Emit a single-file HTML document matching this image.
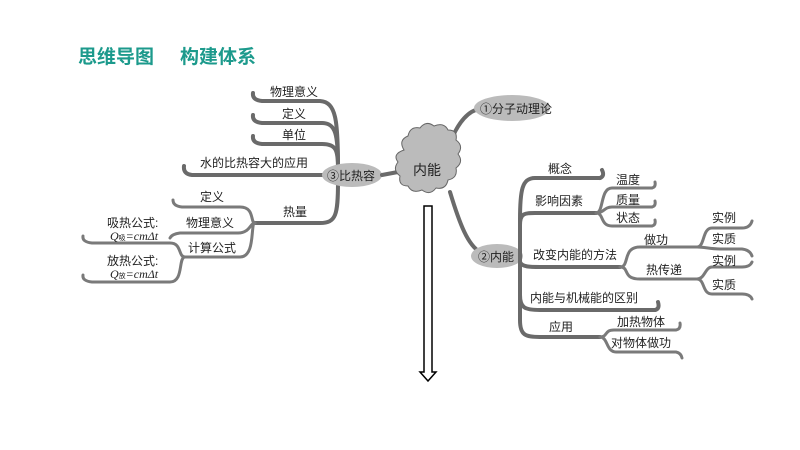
<!DOCTYPE html>
<html><head><meta charset="utf-8"><style>
body{margin:0;background:#fff;}
svg{display:block;}
text{font-family:"Liberation Sans","Noto Sans CJK SC",sans-serif;font-size:12px;fill:#222;}
.t{font-size:19px;font-weight:bold;fill:#1c9a8c;}
.l{fill:none;stroke:#6a6a6a;stroke-width:4;stroke-linecap:round;}
.s{fill:none;stroke:#7a7a7a;stroke-width:3;stroke-linecap:round;}
</style></head><body>
<svg width="800" height="450" viewBox="0 0 800 450">
<text x="78" y="63" class="t">思维导图</text>
<text x="180" y="63" class="t">构建体系</text>

<path class="l" d="M338,168 C338,120 336,102 320,101 L262,101 Q252,100 253,93"/>
<path class="l" d="M338,168 C338,135 336,123 322,123 L262,123 Q252,122 253,115"/>
<path class="l" d="M338,168 C338,150 336,144 322,144 L262,144 Q252,143 253,136"/>
<path class="l" d="M330,175 L192,175 Q183,174 184,166"/>
<path class="l" d="M338,182 C338,215 336,223 320,223 L255,223"/>
<path class="s" d="M255,223 C250,223 255,207 240,207 L182,207 Q173,206 173,200"/>
<path class="s" d="M255,223 C250,223 250,233 238,233 L180,233 Q172,234 170,238"/>
<path class="s" d="M255,223 C250,223 256,257 240,257 L185,257"/>
<path class="s" d="M185,257 C178,257 182,243 170,243 L92,243 Q82,242 83,236"/>
<path class="s" d="M185,257 C178,257 184,282 170,282 L92,282 Q82,281 83,275"/>
<text x="270" y="96">物理意义</text>
<text x="282" y="118">定义</text>
<text x="282" y="139">单位</text>
<text x="200" y="167">水的比热容大的应用</text>
<text x="283" y="216">热量</text>
<text x="200" y="201">定义</text>
<text x="186" y="227">物理意义</text>
<text x="188" y="252">计算公式</text>
<text x="107" y="227">吸热公式:</text>
<text x="110" y="240" style="font-style:italic;font-family:'Liberation Serif',serif;font-size:12px">Q<tspan font-size="7" font-style="normal">吸</tspan>=cmΔt</text>
<text x="107" y="265">放热公式:</text>
<text x="110" y="278" style="font-style:italic;font-family:'Liberation Serif',serif;font-size:12px">Q<tspan font-size="7" font-style="normal">放</tspan>=cmΔt</text>
<ellipse cx="352" cy="175" rx="30" ry="12" fill="#bbb"/>
<text x="327" y="180">③比热容</text>
<path class="l" d="M382,175 L398,172"/>

<path class="l" d="M448,148 C458,120 470,110 480,109"/>
<path class="l" d="M450,192 C460,225 468,245 480,252"/>

<g fill="#bbb" stroke="#666" stroke-width="1">
<path d="M404,150 q-6,-10 4,-14 q2,-10 12,-8 q6,-8 14,-2 q10,-4 14,4 q10,0 8,10 q8,6 2,14 q6,8 -2,14 q2,10 -8,12 q-2,10 -12,8 q-6,8 -14,2 q-10,4 -14,-4 q-10,0 -8,-10 q-8,-6 -2,-14 q-6,-8 6,-12z"/>
</g>
<text x="413" y="175" style="font-size:14px">内能</text>

<path d="M424,206 L432,206 L432,372 L436,372 L428,381 L420,372 L424,372 Z" fill="#fff" stroke="#000" stroke-width="1.5"/>

<ellipse cx="512" cy="108" rx="38" ry="13" fill="#bbb"/>
<text x="480" y="113">①分子动理论</text>

<ellipse cx="497" cy="256" rx="26" ry="12" fill="#bbb"/>
<text x="478" y="261">②内能</text>

<path class="l" d="M600,178 L535,178 C522,178 520,190 520,220 L520,320 C520,335 525,337 540,337 L600,337"/>
<path class="l" d="M520,225 C520,213 525,213 535,213 L596,213"/>
<path class="l" d="M520,262 C522,267 530,267 540,267 L620,267"/>
<path class="l" d="M520,295 C520,308 525,310 540,310 L655,310"/>
<path class="l" d="M600,178 Q605,176 602,170"/>
<text x="548" y="173">概念</text>
<text x="535" y="205">影响因素</text>
<path class="s" d="M596,213 C604,213 600,188 612,188 L652,188 Q656,187 655,182"/>
<path class="s" d="M596,213 C604,213 604,207 612,207 L652,207 Q656,206 655,201"/>
<path class="s" d="M596,213 C604,213 600,226 612,226 L652,226 Q656,225 655,220"/>
<text x="616" y="184">温度</text>
<text x="616" y="204">质量</text>
<text x="616" y="222">状态</text>
<text x="533" y="259">改变内能的方法</text>
<path class="s" d="M620,267 C630,267 622,247 640,247 L697,247"/>
<path class="s" d="M620,267 C630,267 622,279 640,279 L697,279"/>
<text x="644" y="244">做功</text>
<text x="646" y="274">热传递</text>
<path class="s" d="M697,247 C705,247 702,228 712,228 L742,228 Q750,228 752,221"/>
<path class="s" d="M697,247 C705,247 710,249 720,249 L742,249 Q750,250 752,256"/>
<path class="s" d="M697,279 C705,279 705,267 712,267 L742,267 Q750,267 752,262"/>
<path class="s" d="M697,279 C705,279 702,294 712,294 L742,294 Q750,294 752,299"/>
<text x="712" y="222">实例</text>
<text x="712" y="243">实质</text>
<text x="712" y="265">实例</text>
<text x="712" y="289">实质</text>
<text x="530" y="302">内能与机械能的区别</text>
<path class="l" d="M655,310 Q660,309 658,302"/>
<text x="549" y="331">应用</text>
<path class="s" d="M600,337 C608,337 604,330 614,330 L676,330 Q681,329 680,323"/>
<path class="s" d="M600,337 C608,337 606,352 616,352 L676,352 Q681,353 682,358"/>
<text x="617" y="326">加热物体</text>
<text x="611" y="347">对物体做功</text>
</svg>
</body></html>
